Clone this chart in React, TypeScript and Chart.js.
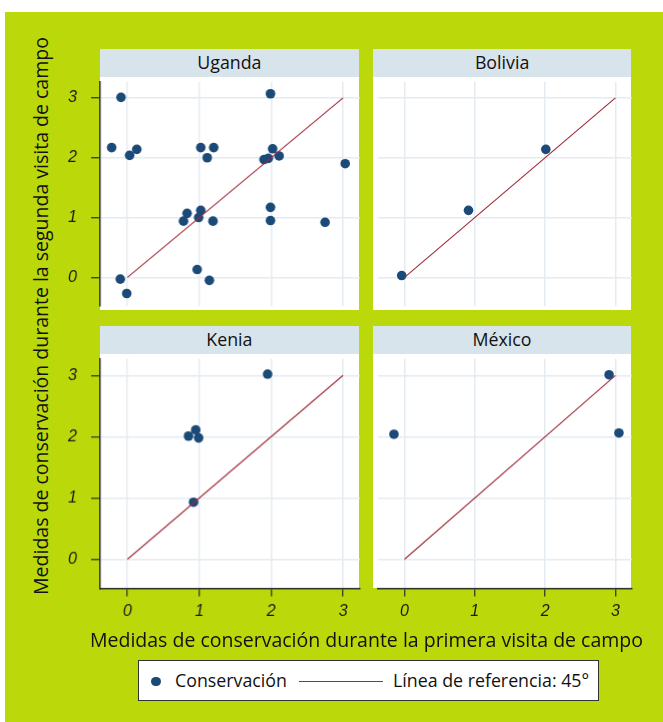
import React, { useEffect, useRef } from "react";
import { Chart, registerables } from "chart.js";
Chart.register(...registerables);

// ---- data ----
const tickValues = [0, 1, 2, 3];
const tickLabels = ["0", "1", "2", "3"];
const refLineX = [0, 3];
const refLineY = [0, 3];

const ugandaX = [-0.09, 1.99, -0.22, 0.13, 0.03, 1.02, 1.2, 1.11, 2.02, 1.9, 1.96, 2.11, 3.03, 1.99, 1.99, 2.75, 0.83, 0.78, 1.02, 0.99, 1.19, 0.97, 1.14, -0.1, -0.01];
const ugandaY = [3.01, 3.07, 2.17, 2.14, 2.04, 2.17, 2.17, 2.0, 2.15, 1.97, 1.99, 2.03, 1.9, 1.17, 0.95, 0.92, 1.07, 0.94, 1.12, 1.0, 0.94, 0.13, -0.05, -0.03, -0.27];
const boliviaX = [-0.04, 0.91, 2.01];
const boliviaY = [0.03, 1.12, 2.14];
const keniaX = [1.95, 0.95, 0.85, 0.99, 0.92];
const keniaY = [3.02, 2.11, 2.01, 1.98, 0.93];
const mexicoX = [-0.15, 2.91, 3.05];
const mexicoY = [2.04, 3.01, 2.06];

const panelTitles = ["Uganda", "Bolivia", "Kenia", "México"];
const xTitle = "Medidas de conservación durante la primera visita de campo";
const yTitle = "Medidas de conservación durante la segunda visita de campo";
const legendPointLabel = "Conservación";
const legendLineLabel = "Línea de referencia: 45°";

// ---- style ----
const GREEN = "#bbd90a";
const HEADER = "#d8e4eb";
const GRID = "#e4ecf1";
const POINT = "#1c4a78";
const LINE = "#9e2a36";
const AXIS = "#2a2a2a";
const TEXT_FONT = "'Open Sans', 'Noto Sans', sans-serif";

const X_MIN = -0.38;
const X_MAX = 3.233;
const Y_MIN = -0.476;
const Y_MAX = 3.27;

const PLOT_W = 258.8;
const PLOT_H = 233.6;
const HEADER_H = 27.7;

type PanelCfg = {
  title: string;
  xs: number[];
  ys: number[];
  left: number;
  top: number;
  yAxis: boolean;
  xAxis: boolean;
};

const panels: PanelCfg[] = [
  { title: panelTitles[0], xs: ugandaX, ys: ugandaY, left: 100, top: 76.7, yAxis: true, xAxis: false },
  { title: panelTitles[1], xs: boliviaX, ys: boliviaY, left: 372.7, top: 76.7, yAxis: false, xAxis: false },
  { title: panelTitles[2], xs: keniaX, ys: keniaY, left: 100, top: 354, yAxis: true, xAxis: true },
  { title: panelTitles[3], xs: mexicoX, ys: mexicoY, left: 372.7, top: 354, yAxis: false, xAxis: true },
];

const LEFT_EXTRA = 45;
const BOTTOM_EXTRA = 40;
const RIGHT_EXTRA = 12;

function Panel({ p }: { p: PanelCfg }) {
  const ref = useRef<HTMLCanvasElement | null>(null);
  useEffect(() => {
    if (!ref.current) return;
    const setTicks = (s: any) => {
      s.ticks = tickValues.map((v) => ({ value: v }));
    };
    const tickFont = { family: "'Liberation Sans', Arial, sans-serif", style: "italic" as const, size: 16 };
    const chart = new Chart(ref.current, {
      type: "scatter",
      data: {
        datasets: [
          {
            type: "line",
            data: refLineX.map((x, i) => ({ x, y: refLineY[i] })),
            borderColor: LINE,
            borderWidth: 1.1,
            pointRadius: 0,
            order: 0,
          } as any,
          {
            type: "scatter",
            data: p.xs.map((x, i) => ({ x, y: p.ys[i] })),
            backgroundColor: POINT,
            borderWidth: 0,
            pointRadius: 4.8,
            order: 1,
          } as any,
        ],
      },
      options: {
        animation: false,
        responsive: true,
        maintainAspectRatio: false,
        layout: { padding: { left: 0, right: RIGHT_EXTRA, top: 0, bottom: 0 } },
        plugins: { legend: { display: false }, tooltip: { enabled: false } },
        events: [],
        scales: {
          x: {
            type: "linear",
            min: X_MIN,
            max: X_MAX,
            afterBuildTicks: setTicks,
            afterFit: (s: any) => {
              s.height = p.xAxis ? BOTTOM_EXTRA : 0;
              s.paddingLeft = 0;
              s.paddingRight = 0;
              s.paddingTop = 0;
              s.paddingBottom = 0;
            },
            ticks: {
              display: p.xAxis,
              autoSkip: false,
              maxRotation: 0,
              padding: 5,
              color: "#1a1a1a",
              font: tickFont,
              callback: (v: any) => tickLabels[tickValues.indexOf(Number(v))],
            },
            grid: {
              color: GRID,
              lineWidth: 1.5,
              drawTicks: p.xAxis,
              tickLength: 8,
              tickColor: AXIS,
              tickWidth: 1.2,
            },
            border: { display: p.xAxis, color: AXIS, width: 1.5 },
          },
          y: {
            type: "linear",
            min: Y_MIN,
            max: Y_MAX,
            afterBuildTicks: setTicks,
            afterFit: (s: any) => {
              s.width = p.yAxis ? LEFT_EXTRA : 0;
              s.paddingLeft = 0;
              s.paddingRight = 0;
              s.paddingTop = 0;
              s.paddingBottom = 0;
            },
            ticks: {
              display: p.yAxis,
              autoSkip: false,
              padding: 14,
              color: "#1a1a1a",
              font: tickFont,
              callback: (v: any) => tickLabels[tickValues.indexOf(Number(v))],
            },
            grid: {
              color: GRID,
              lineWidth: 1.5,
              drawTicks: p.yAxis,
              tickLength: 9,
              tickColor: AXIS,
              tickWidth: 1.2,
            },
            border: { display: p.yAxis, color: AXIS, width: 1.5 },
          },
        },
      } as any,
    });
    return () => chart.destroy();
  }, [p]);

  const leftExtra = p.yAxis ? LEFT_EXTRA : 0;
  const bottomExtra = p.xAxis ? BOTTOM_EXTRA : 0;
  return (
    <>
      <div
        style={{
          position: "absolute",
          left: p.left,
          top: p.top - HEADER_H,
          width: PLOT_W,
          height: HEADER_H,
          background: HEADER,
          color: "#111",
          fontFamily: TEXT_FONT,
          fontSize: 17.8,
          lineHeight: HEADER_H + "px",
          textAlign: "center",
        }}
      >
        {p.title}
      </div>
      <div
        style={{
          position: "absolute",
          left: p.left,
          top: p.top,
          width: PLOT_W,
          height: PLOT_H,
          background: "#ffffff",
        }}
      />
      <div
        style={{
          position: "absolute",
          left: p.left - leftExtra,
          top: p.top,
          width: PLOT_W + leftExtra + RIGHT_EXTRA,
          height: PLOT_H + bottomExtra,
        }}
      >
        <canvas ref={ref} />
      </div>
    </>
  );
}

export default function App() {
  return (
    <div
      style={{
        position: "absolute",
        left: 0,
        top: 0,
        width: 663,
        height: 722,
        background: "#ffffff",
        overflow: "hidden",
      }}
    >
      <div
        style={{
          position: "absolute",
          left: 5,
          top: 12,
          width: 658,
          height: 710,
          background: GREEN,
        }}
      />
      {panels.map((p) => (
        <Panel key={p.title} p={p} />
      ))}
      <div
        style={{
          position: "absolute",
          left: 41 - 320,
          top: 316 - 14,
          width: 640,
          height: 28,
          lineHeight: "28px",
          textAlign: "center",
          transform: "rotate(-90deg)",
          whiteSpace: "nowrap",
          fontFamily: TEXT_FONT,
          fontSize: 19.5,
          color: "#111",
        }}
      >
        {yTitle}
      </div>
      <div
        style={{
          position: "absolute",
          left: 366.5 - 320,
          top: 640 - 14,
          width: 640,
          height: 28,
          lineHeight: "28px",
          textAlign: "center",
          whiteSpace: "nowrap",
          fontFamily: TEXT_FONT,
          fontSize: 19.5,
          color: "#111",
        }}
      >
        {xTitle}
      </div>
      <div
        style={{
          position: "absolute",
          left: 138,
          top: 660,
          width: 459,
          height: 39,
          background: "#ffffff",
          border: "1px solid #333",
          fontFamily: TEXT_FONT,
          fontSize: 17.8,
          color: "#111",
        }}
      >
        <div
          style={{
            position: "absolute",
            left: 12,
            top: 15.5,
            width: 9.5,
            height: 9.5,
            borderRadius: "50%",
            background: POINT,
          }}
        />
        <div style={{ position: "absolute", left: 36, top: 0, lineHeight: "39px", whiteSpace: "nowrap" }}>
          {legendPointLabel}
        </div>
        <div
          style={{
            position: "absolute",
            left: 160,
            top: 20,
            width: 84,
            height: 1,
            background: LINE,
          }}
        />
        <div style={{ position: "absolute", left: 254, top: 0, lineHeight: "39px", whiteSpace: "nowrap" }}>
          {legendLineLabel}
        </div>
      </div>
    </div>
  );
}
